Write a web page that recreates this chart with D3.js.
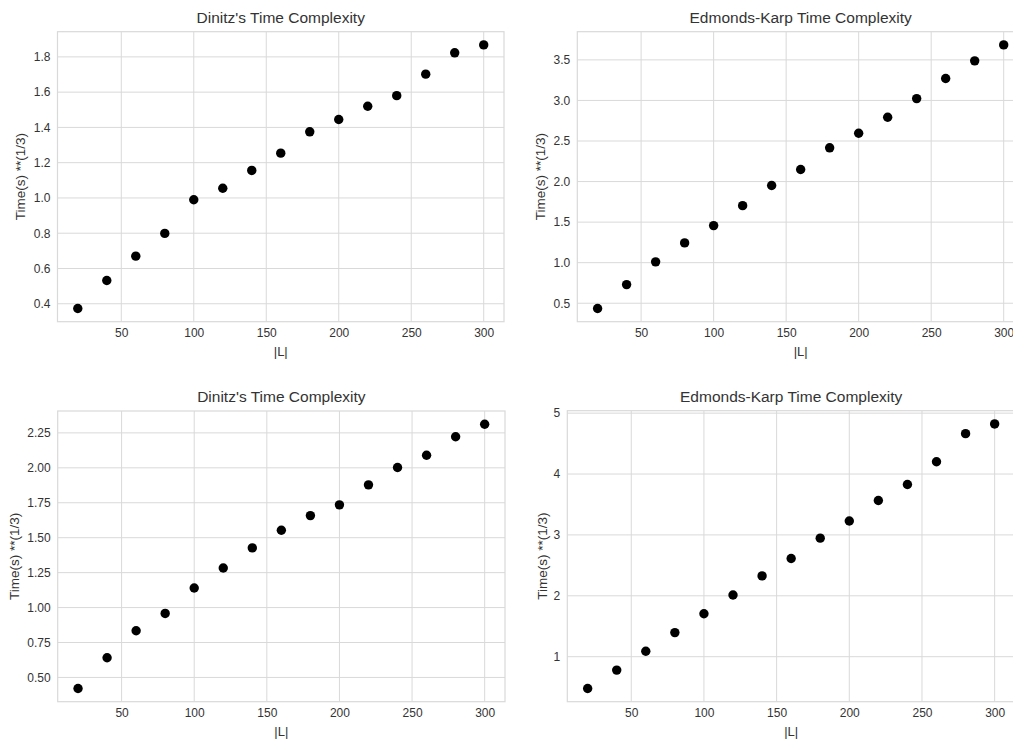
<!DOCTYPE html>
<html>
<head>
<meta charset="utf-8">
<script src="https://cdn.jsdelivr.net/npm/d3@7.9.0/dist/d3.min.js"></script>
<style>
  body { margin: 0; background: #fff; }
  svg { display: block; font-family: "Liberation Sans", Arial, sans-serif; }
</style>
</head>
<body>
<svg id="chart" width="1013" height="740"></svg>
<script>
// |L| values shared by all four panels
const sizes = [20, 40, 60, 80, 100, 120, 140, 160, 180, 200, 220, 240, 260, 280, 300];

// Time(s) ** (1/3)
const dinitzTop   = [0.373, 0.532, 0.670, 0.799, 0.990, 1.055, 1.156, 1.254, 1.375, 1.445, 1.520, 1.580, 1.702, 1.823, 1.868];
const edmondsTop  = [0.435, 0.730, 1.010, 1.244, 1.457, 1.703, 1.952, 2.149, 2.416, 2.596, 2.793, 3.023, 3.270, 3.488, 3.685];
const dinitzBot   = [0.421, 0.641, 0.834, 0.958, 1.140, 1.283, 1.427, 1.553, 1.658, 1.735, 1.878, 2.002, 2.090, 2.222, 2.312];
const edmondsBot  = [0.478, 0.780, 1.089, 1.396, 1.705, 2.013, 2.327, 2.613, 2.947, 3.228, 3.565, 3.828, 4.201, 4.663, 4.823];

const xTicks = [50, 100, 150, 200, 250, 300];
const yTicksDinitzTop  = [0.4, 0.6, 0.8, 1.0, 1.2, 1.4, 1.6, 1.8];
const yTicksEdmondsTop = [0.5, 1.0, 1.5, 2.0, 2.5, 3.0, 3.5];
const yTicksDinitzBot  = [0.5, 0.75, 1.0, 1.25, 1.5, 1.75, 2.0, 2.25];
const yTicksEdmondsBot = [1, 2, 3, 4, 5];

const titles = ["Dinitz's Time Complexity", "Edmonds-Karp Time Complexity"];

const svg = d3.select("#chart");
const gridColor = "#d9d9d9";
const textColor = "#333";

// panel boxes in page pixels
const panels = [
  { box: [57.5, 31.7, 504, 321.7],   data: dinitzTop,  ticks: yTicksDinitzTop,  fmt: ".1f", title: titles[0], ylabX: 20 },
  { box: [577.3, 31.7, 1024, 321.7], data: edmondsTop, ticks: yTicksEdmondsTop, fmt: ".1f", title: titles[1], ylabX: 540 },
  { box: [57.7, 411, 505, 701.7],    data: dinitzBot,  ticks: yTicksDinitzBot,  fmt: ".2f", title: titles[0], ylabX: 14 },
  { box: [567.3, 410.7, 1015, 701.7], data: edmondsBot, ticks: yTicksEdmondsBot, fmt: "d",  title: titles[1], ylabX: 542 }
];

function padded(ext) {
  const m = (ext[1] - ext[0]) * 0.05;
  return [ext[0] - m, ext[1] + m];
}

panels.forEach(p => {
  const [x0, y0, x1, y1] = p.box;
  const w = x1 - x0, h = y1 - y0;
  const g = svg.append("g").attr("transform", `translate(${x0},${y0})`);

  const x = d3.scaleLinear().domain(padded(d3.extent(sizes))).range([0, w]);
  const y = d3.scaleLinear().domain(padded(d3.extent(p.data))).range([h, 0]);

  // grid
  g.append("g")
    .selectAll("line")
    .data(xTicks)
    .join("line")
    .attr("x1", d => x(d)).attr("x2", d => x(d))
    .attr("y1", 0).attr("y2", h)
    .attr("stroke", gridColor).attr("stroke-width", 1);
  g.append("g")
    .selectAll("line")
    .data(p.ticks)
    .join("line")
    .attr("x1", 0).attr("x2", w)
    .attr("y1", d => y(d)).attr("y2", d => y(d))
    .attr("stroke", gridColor).attr("stroke-width", 1);

  // frame
  g.append("rect")
    .attr("width", w).attr("height", h)
    .attr("fill", "none")
    .attr("stroke", gridColor).attr("stroke-width", 1.2);

  // axes (no tick marks, just labels)
  const xAxis = g.append("g")
    .attr("transform", `translate(0,${h})`)
    .call(d3.axisBottom(x).tickValues(xTicks).tickSize(0).tickPadding(7));
  const yAxis = g.append("g")
    .call(d3.axisLeft(y).tickValues(p.ticks).tickFormat(d3.format(p.fmt)).tickSize(0).tickPadding(7));
  [xAxis, yAxis].forEach(a => {
    a.select(".domain").remove();
    a.selectAll("text")
      .attr("fill", textColor)
      .style("font-size", "12px")
      .style("font-family", "Liberation Sans, Arial, sans-serif");
  });

  // points
  g.selectAll("circle")
    .data(sizes.map((s, i) => ({ s, v: p.data[i] })))
    .join("circle")
    .attr("cx", d => x(d.s))
    .attr("cy", d => y(d.v))
    .attr("r", 4.7)
    .attr("fill", "#000");

  // title
  svg.append("text")
    .attr("x", x0 + w / 2)
    .attr("y", y0 - 9)
    .attr("text-anchor", "middle")
    .attr("fill", textColor)
    .style("font-size", "15.5px")
    .text(p.title);

  // x label
  svg.append("text")
    .attr("x", x0 + w / 2)
    .attr("y", y1 + 34)
    .attr("text-anchor", "middle")
    .attr("fill", textColor)
    .style("font-size", "13px")
    .text("|L|");

  // y label
  svg.append("text")
    .attr("transform", `translate(${p.ylabX},${y0 + h / 2}) rotate(-90)`)
    .attr("text-anchor", "middle")
    .attr("dy", "0.35em")
    .attr("fill", textColor)
    .style("font-size", "13.5px")
    .text("Time(s) **(1/3)");
});
</script>
</body>
</html>
